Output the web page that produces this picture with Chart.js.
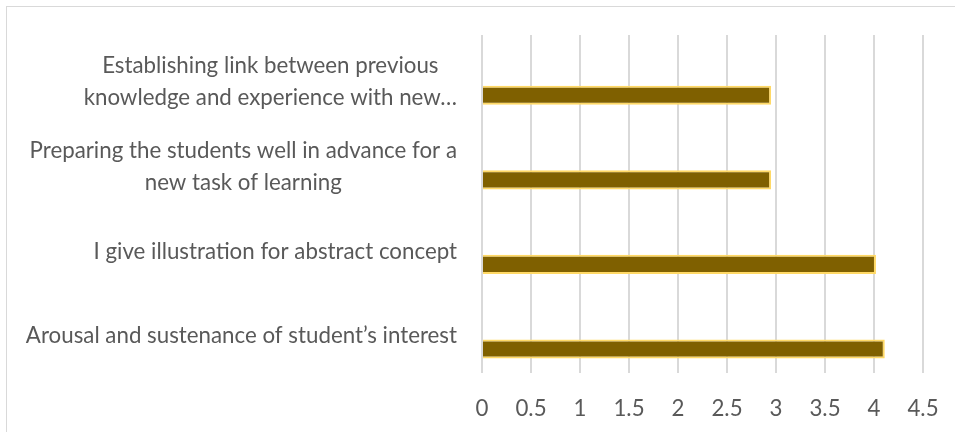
<!DOCTYPE html>
<html>
<head>
<meta charset="utf-8">
<script src="https://cdn.jsdelivr.net/npm/chart.js@4.4.0/dist/chart.umd.min.js"></script>
<style>
  html, body { margin: 0; padding: 0; background: #fff; overflow: hidden; }
  #frame { position: absolute; left: 6px; top: 6px; width: 1100px; height: 600px; border: 1px solid #d9d9d9; box-sizing: border-box; }
  #wrap { position: absolute; left: 0; top: 0; width: 955px; height: 432px; }
</style>
</head>
<body>
<div id="frame"></div>
<div id="wrap"><canvas id="myChart"></canvas></div>
<script>
const categories = [
  ['Establishing link between previous', 'knowledge and experience with new…'],
  ['Preparing the students well in advance for a', 'new task of learning'],
  ['I give illustration for abstract concept'],
  ['Arousal and sustenance of student’s interest'],
];
const scores = [2.95, 2.95, 4.02, 4.11];
// second, empty series in the workbook: it only takes up the upper slot
const blankSeries = [null, null, null, null];
const xMin = 0;
const xMax = 4.5;
const xStep = 0.5;

const fontFamily = 'Lato';
const fontSize = 22.3;
const textColor = '#595959';

// category labels: each block right-aligned, its lines centred inside it
const yLabels = {
  id: 'yLabels',
  afterDraw(chart) {
    const ctx = chart.ctx;
    const y = chart.scales.y;
    const area = chart.chartArea;
    ctx.save();
    ctx.font = fontSize + 'px ' + fontFamily;
    ctx.fillStyle = textColor;
    ctx.textAlign = 'center';
    ctx.textBaseline = 'middle';
    categories.forEach((lines, i) => {
      const widest = Math.max(...lines.map(l => ctx.measureText(l).width));
      const cx = area.left - 25 - widest / 2;
      const cy = y.getPixelForValue(i) + 5;
      lines.forEach((line, j) => {
        ctx.fillText(line, cx, cy + (j - (lines.length - 1) / 2) * 32);
      });
    });
    ctx.restore();
  }
};

new Chart(document.getElementById('myChart'), {
  type: 'bar',
  data: {
    labels: categories,
    datasets: [
      { label: '', data: blankSeries },
      {
        label: '',
        data: scores,
        backgroundColor: '#7f6000',
        borderColor: '#ffd966',
        borderWidth: 2,
      }
    ]
  },
  options: {
    indexAxis: 'y',
    responsive: true,
    maintainAspectRatio: false,
    animation: false,
    categoryPercentage: 0.852,
    barPercentage: 0.53,
    layout: { padding: { left: 482, right: 32, top: 35, bottom: 7 } },
    scales: {
      x: {
        min: xMin,
        max: xMax,
        ticks: {
          stepSize: xStep,
          color: textColor,
          font: { family: fontFamily, size: fontSize },
          padding: 3,
          callback: v => String(Math.round(v * 10) / 10),
        },
        // invisible tick marks keep the labels clear of the plot
        grid: { color: '#d9d9d9', lineWidth: 2, drawTicks: true, tickLength: 19, tickColor: 'rgba(0,0,0,0)' },
        border: { display: false },
      },
      y: { display: false }
    },
    plugins: {
      legend: { display: false },
      tooltip: { enabled: false }
    }
  },
  plugins: [yLabels]
});
</script>
</body>
</html>
